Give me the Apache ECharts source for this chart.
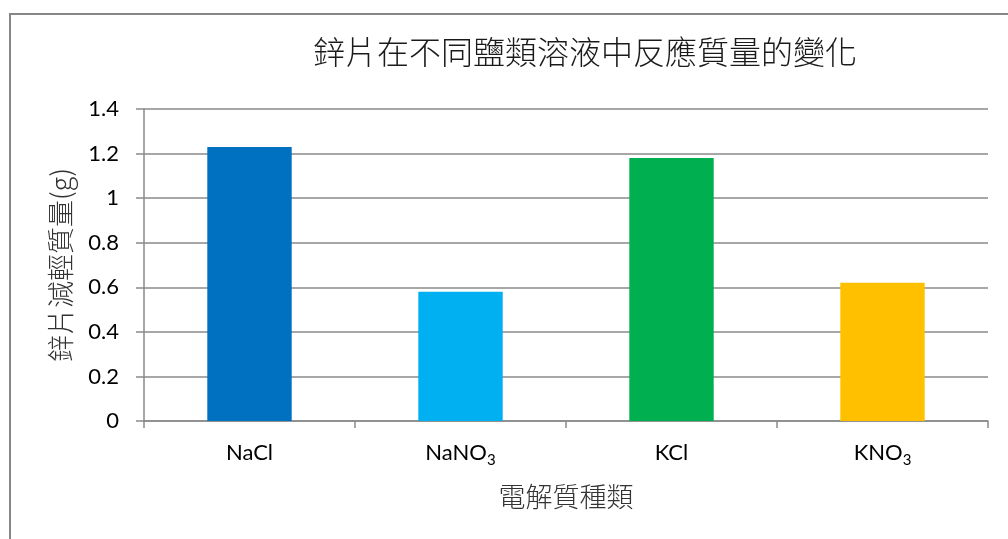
<!DOCTYPE html>
<html>
<head>
<meta charset="utf-8">
<script src="https://cdn.jsdelivr.net/npm/echarts@6/dist/echarts.min.js"></script>
<style>
  html, body { margin: 0; padding: 0; background: #fff; }
  #chart { width: 1008px; height: 539px; }
</style>
</head>
<body>
<div id="chart"></div>
<script>
// Electrolyte categories and zinc mass loss (g)
const categories = ['NaCl', 'NaNO₃', 'KCl', 'KNO₃'];
const massLoss = [1.23, 0.58, 1.18, 0.62];
const barColors = ['#0070C0', '#00B0F0', '#00B050', '#FFC000'];
const yTicks = { min: 0, max: 1.4, interval: 0.2 };

const chart = echarts.init(document.getElementById('chart'), null, { renderer: 'canvas' });

const cjk = '"Noto Sans CJK TC", "Noto Sans CJK SC", sans-serif';
const latin = 'Lato, "Open Sans", sans-serif';
const axisGray = '#8a8a8a';

// turn "₃" into a rich-text subscript
function labelRich(v) {
  const parts = v.split('₃');
  if (parts.length === 1) return '{n|' + v + '}';
  return parts.map((p, i) => (p ? '{n|' + p + '}' : '') + (i < parts.length - 1 ? '{s|3}' : '')).join('');
}

chart.setOption({
  backgroundColor: '#ffffff',
  animation: false,
  graphic: [{
    type: 'rect',
    shape: { x: 10, y: 14, width: 1010, height: 540 },
    style: { fill: 'none', stroke: '#868686', lineWidth: 2 },
    silent: true
  }],
  title: {
    text: '鋅片在不同鹽類溶液中反應質量的變化',
    left: 580,
    textAlign: 'center',
    top: 31,
    textStyle: { fontFamily: cjk, fontSize: 32, fontWeight: 300, color: '#1a1a1a' }
  },
  grid: { left: 144, right: 20, top: 109, bottom: 118 },
  xAxis: {
    type: 'category',
    data: categories,
    name: '電解質種類',
    nameLocation: 'middle',
    nameGap: 62,
    nameTextStyle: { fontFamily: cjk, fontSize: 27, fontWeight: 300, color: '#333' },
    axisLine: { lineStyle: { color: axisGray, width: 1.5 } },
    axisTick: { show: true, length: 7, alignWithLabel: false, lineStyle: { color: axisGray, width: 1.5 } },
    axisLabel: {
      margin: 21,
      formatter: labelRich,
      rich: {
        n: { fontFamily: latin, fontSize: 22, color: '#000', padding: [0, 0, 4, 0], verticalAlign: 'bottom' },
        s: { fontFamily: latin, fontSize: 15, color: '#000', verticalAlign: 'bottom' }
      }
    }
  },
  yAxis: {
    type: 'value',
    min: yTicks.min,
    max: yTicks.max,
    interval: yTicks.interval,
    name: '鋅片減輕質量(g)',
    nameLocation: 'middle',
    nameGap: 70,
    nameRotate: 90,
    nameTextStyle: { fontFamily: cjk, fontSize: 27, fontWeight: 300, color: '#333' },
    axisLine: { show: true, lineStyle: { color: axisGray, width: 1.5 } },
    axisTick: { show: true, length: 8, lineStyle: { color: axisGray, width: 1.5 } },
    axisLabel: { margin: 25, fontFamily: latin, fontSize: 22, color: '#000' },
    splitLine: { show: true, lineStyle: { color: axisGray, width: 1.5 } }
  },
  series: [{
    type: 'bar',
    barWidth: '40%',
    data: massLoss.map((v, i) => ({ value: v, itemStyle: { color: barColors[i] } }))
  }]
});
</script>
</body>
</html>
